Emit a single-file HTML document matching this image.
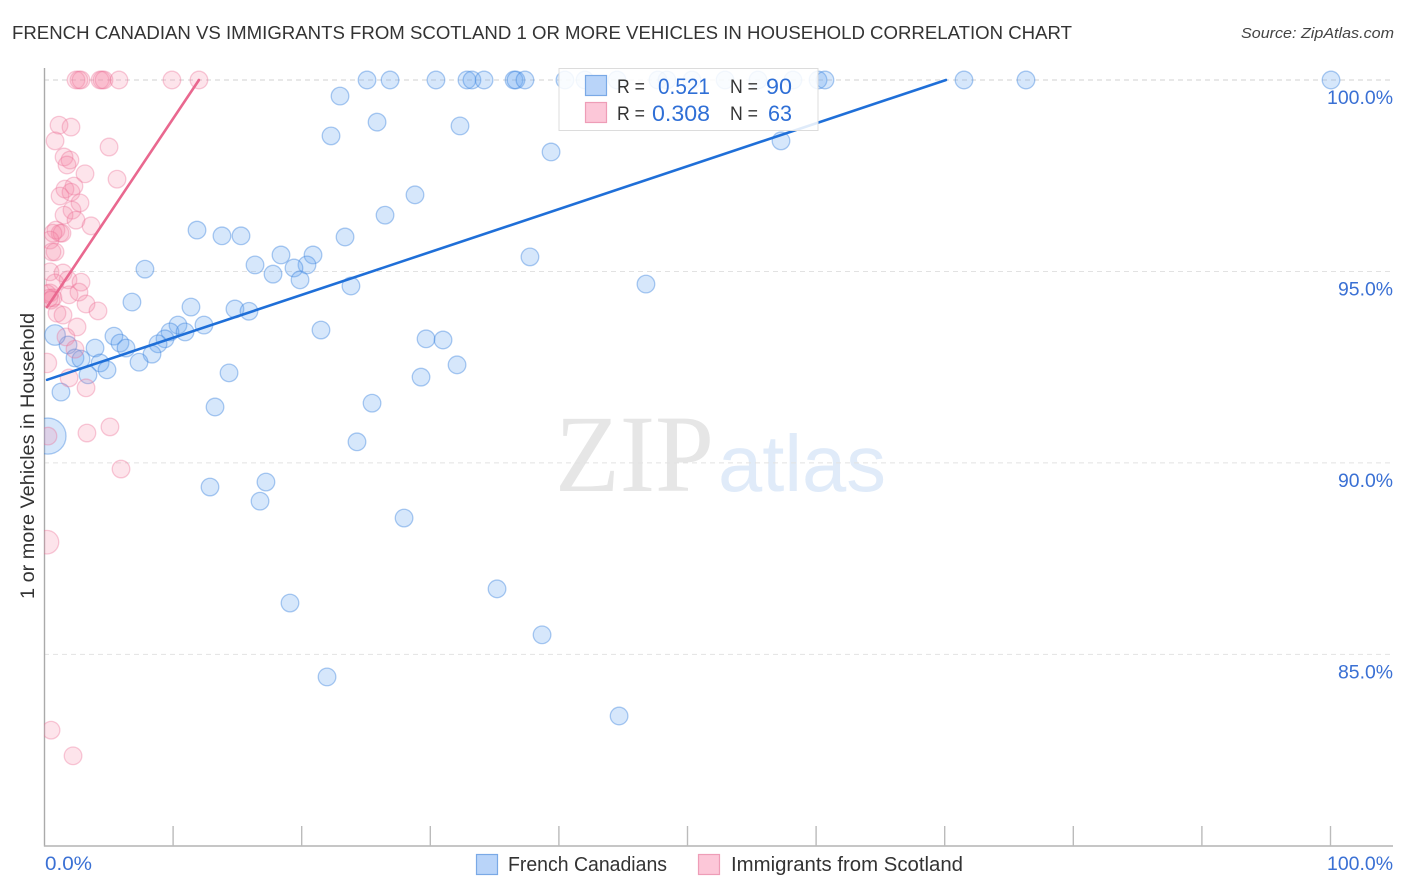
<!DOCTYPE html>
<html lang="en">
<head>
<meta charset="utf-8">
<title>French Canadian vs Immigrants from Scotland Correlation Chart</title>
<style>
html,body{margin:0;padding:0;background:#fff;}
svg{display:block;}
text{font-family:"Liberation Sans",sans-serif;}
</style>
</head>
<body>
<svg id="chart" width="1406" height="892" viewBox="0 0 1406 892" xmlns="http://www.w3.org/2000/svg">
  <defs>
    <clipPath id="plot-clip"><rect x="44" y="60" width="1362" height="786"></rect></clipPath>
  </defs>
  <rect x="0" y="0" width="1406" height="892" fill="#fff"></rect>
  <text x="12" y="39" font-size="18.5" fill="#333" textLength="1060" lengthAdjust="spacingAndGlyphs">FRENCH CANADIAN VS IMMIGRANTS FROM SCOTLAND 1 OR MORE VEHICLES IN HOUSEHOLD CORRELATION CHART</text>
  <text x="1394" y="38" font-size="15" font-style="italic" fill="#444" text-anchor="end" textLength="153" lengthAdjust="spacingAndGlyphs">Source: ZipAtlas.com</text>
  <g>
    <text x="555" y="491" style="font-family:'Liberation Serif',serif" font-size="110" fill="#e6e6e6" textLength="159" lengthAdjust="spacingAndGlyphs">ZIP</text>
    <text x="718" y="491" font-size="80" fill="#e0ebf9" textLength="168" lengthAdjust="spacingAndGlyphs">atlas</text>
  </g>
  <g id="grid"></g>
  <g id="axes"></g>
  <g id="marks" clip-path="url(#plot-clip)"></g>
  <g id="ylabels"></g>
  <g id="xlabels"></g>
  <text transform="translate(34,456) rotate(-90)" font-size="19" fill="#333" text-anchor="middle" textLength="286" lengthAdjust="spacingAndGlyphs">1 or more Vehicles in Household</text>

  <g>
    <rect x="559" y="68.5" width="259" height="62" fill="#fff" fill-opacity="0.86" stroke="#dcdcdc" stroke-width="1"></rect>
    <rect x="585.5" y="75.5" width="21" height="20" fill="#b9d4f9" stroke="#7aa9e6" stroke-width="1.2"></rect>
    <rect x="585.5" y="102.5" width="21" height="20" fill="#fcc7d8" stroke="#ee9db7" stroke-width="1.2"></rect>
    <text x="617" y="93" font-size="19" fill="#333" textLength="28" lengthAdjust="spacingAndGlyphs">R =</text>
    <text x="658" y="94" font-size="22" fill="#2f6fd6" textLength="52" lengthAdjust="spacingAndGlyphs">0.521</text>
    <text x="730" y="93" font-size="19" fill="#333" textLength="28" lengthAdjust="spacingAndGlyphs">N =</text>
    <text x="766" y="94" font-size="22" fill="#2f6fd6" textLength="26" lengthAdjust="spacingAndGlyphs">90</text>
    <text x="617" y="120" font-size="19" fill="#333" textLength="28" lengthAdjust="spacingAndGlyphs">R =</text>
    <text x="652" y="121" font-size="22" fill="#2f6fd6" textLength="58" lengthAdjust="spacingAndGlyphs">0.308</text>
    <text x="730" y="120" font-size="19" fill="#333" textLength="28" lengthAdjust="spacingAndGlyphs">N =</text>
    <text x="768" y="121" font-size="22" fill="#2f6fd6" textLength="24" lengthAdjust="spacingAndGlyphs">63</text>
  </g>

  <g>
    <g>
      <rect x="476.5" y="854.5" width="21" height="20" fill="#b9d4f9" stroke="#7aa9e6" stroke-width="1.2"></rect>
      <text x="508" y="871" font-size="20" fill="#333" textLength="159" lengthAdjust="spacingAndGlyphs">French Canadians</text>
    </g>
    <g>
      <rect x="698.5" y="854.5" width="21" height="20" fill="#fcc7d8" stroke="#ee9db7" stroke-width="1.2"></rect>
      <text x="731" y="871" font-size="20" fill="#333" textLength="232" lengthAdjust="spacingAndGlyphs">Immigrants from Scotland</text>
    </g>
  </g>
</svg>
<script>
const yTicks = [100, 95, 90, 85];
const yTickLabels = ["100.0%", "95.0%", "90.0%", "85.0%"];
const xTicks = [0, 10, 20, 30, 40, 50, 60, 70, 80, 90, 100];
const xEdgeLabels = ["0.0%", "100.0%"];

const blueX = [25.08,26.87,30.44,32.85,33.24,34.18,36.51,36.66,37.36,40.47,42.03,44.52,47.70,48.40,50.35,52.92,55.48,58.20,60.15,60.69,71.50,76.32,100.04,
  22.98,22.28,25.86,32.31,39.39,57.27,28.81,26.48,11.86,13.80,15.28,23.37,18.39,20.88,37.75,16.37,20.41,19.40,7.81,17.77,19.87,23.83,46.77,6.80,11.39,14.81,15.90,10.38,12.40,21.50,5.40,9.76,10.93,9.37,8.83,5.87,6.34,3.93,1.83,29.67,30.99,8.36,7.35,2.37,2.84,4.32,4.86,32.08,3.38,14.35,29.28,1.28,25.47,13.26,24.30,17.22,12.87,16.76,27.96,35.19,19.09,38.69,21.97,44.68];
const blueY = [100,100,100,100,100,100,100,100,100,100,100,100,100,100,100,100,100,100,100,100,100,100,100,
  99.58,98.54,98.90,98.80,98.12,98.41,97.00,96.47,96.08,95.93,95.93,95.90,95.43,95.43,95.38,95.17,95.17,95.09,95.06,94.93,94.78,94.62,94.67,94.20,94.07,94.02,93.96,93.60,93.60,93.47,93.31,93.42,93.42,93.24,93.11,93.13,93.00,93.00,93.08,93.24,93.21,92.84,92.63,92.74,92.71,92.61,92.43,92.56,92.30,92.35,92.24,91.85,91.56,91.46,90.55,89.50,89.37,89.00,88.56,86.71,86.34,85.51,84.41,83.39];
const blueLargeX = [0.27, 0.82];
const blueLargeY = [90.70, 93.34];
const blueLargeWeight = [4.2, 1.36];

const pinkX = [2.45,2.68,2.84,4.32,4.47,4.63,5.79,9.91,12.01,
  1.13,2.06,0.82,5.02,1.52,1.98,1.75,3.15,5.64,2.29,1.59,2.06,1.21,2.76,2.14,1.52,2.45,3.62,0.89,1.21,1.36,0.66,0.43,0.58,0.82,0.43,1.44,1.83,2.84,0.82,0.43,0.66,1.91,2.68,3.23,4.16,0.97,1.44,2.53,1.67,2.37,1.91,3.23,3.30,5.09,5.95,0.51,2.22,0.27,0.19,0.35,0.50];
const pinkY = [100,100,100,100,100,100,100,100,100,
  98.82,98.77,98.41,98.25,97.99,97.91,97.78,97.55,97.41,97.23,97.15,97.07,96.97,96.79,96.60,96.47,96.34,96.19,96.08,96.00,96.00,96.00,95.82,95.51,95.51,94.99,94.96,94.78,94.72,94.70,94.44,94.31,94.39,94.46,94.15,93.97,93.91,93.86,93.55,93.29,92.97,92.22,91.96,90.78,90.94,89.84,83.02,82.35,90.70,94.42,94.30,94.25];
const pinkLargeX = [0.19, 0.19];
const pinkLargeY = [92.61, 87.93];
const pinkLargeWeight = [1.2, 1.8];

const blueTrendX = [0.2, 70.1];
const blueTrendY = [92.17, 100];
const pinkTrendX = [0.2, 12.01];
const pinkTrendY = [94.07, 100];

const SVGNS = "http://www.w3.org/2000/svg";
function xScale(v) { return 44.5 + v * 12.86; }
function yScale(v) { return 80 + (100 - v) * 38.29; }
function make(tag, attrs, parent) {
  const el = document.createElementNS(SVGNS, tag);
  for (const k in attrs) el.setAttribute(k, attrs[k]);
  parent.appendChild(el);
  return el;
}
const gridG = document.getElementById("grid");
const axesG = document.getElementById("axes");
const marksG = document.getElementById("marks");
const yLabG = document.getElementById("ylabels");
const xLabG = document.getElementById("xlabels");

yTicks.forEach(function (t, i) {
  const line = make("line", {x1: 44, x2: 1393, y1: yScale(t), y2: yScale(t), stroke: i === 0 ? "#d2d2d2" : "#e2e2e2", "stroke-width": 1, "stroke-dasharray": "5 4"}, gridG);
  
  
  const label = make("text", {x: 1393, y: yScale(t) + 24, "font-size": 19, fill: "#3a70d4", "text-anchor": "end", textLength: i === 0 ? 66 : 55, lengthAdjust: "spacingAndGlyphs"}, yLabG);
  
  
  label.textContent = yTickLabels[i];
});

const yAxis = make("line", {x1: 44.5, x2: 44.5, y1: 68, y2: 846.5, stroke: "#aaa", "stroke-width": 1.4}, axesG);


const xAxis = make("line", {x1: 44, x2: 1393, y1: 846, y2: 846, stroke: "#b4b4b4", "stroke-width": 1.4}, axesG);


xTicks.forEach(function (t) {
  if (t === 0) return;
  const tick = make("line", {x1: xScale(t), x2: xScale(t), y1: 826, y2: 846, stroke: "#bbb", "stroke-width": 1.4}, axesG);
  
  
});

const x0Label = make("text", {x: 45, y: 870, "font-size": 19, fill: "#3a70d4", textLength: 47, lengthAdjust: "spacingAndGlyphs"}, xLabG);


x0Label.textContent = xEdgeLabels[0];
const x1Label = make("text", {x: 1393, y: 870, "font-size": 19, fill: "#3a70d4", "text-anchor": "end", textLength: 66, lengthAdjust: "spacingAndGlyphs"}, xLabG);


x1Label.textContent = xEdgeLabels[1];

const BASE_R = 8.8;
function drawBlue(x, y, w) {
  const c = make("circle", {cx: xScale(x), cy: yScale(y), r: BASE_R * Math.sqrt(w), fill: "rgba(105,165,240,0.27)", stroke: "rgba(60,130,222,0.42)", "stroke-width": 1.3}, marksG);
  
  
}
function drawPink(x, y, w) {
  const c = make("circle", {cx: xScale(x), cy: yScale(y), r: BASE_R * Math.sqrt(w), fill: "rgba(245,130,165,0.22)", stroke: "rgba(235,110,150,0.36)", "stroke-width": 1.3}, marksG);
  
  
}
blueX.forEach(function (x, i) { drawBlue(x, blueY[i], 1); });
blueLargeX.forEach(function (x, i) { drawBlue(x, blueLargeY[i], blueLargeWeight[i]); });
pinkX.forEach(function (x, i) { drawPink(x, pinkY[i], 1); });
pinkLargeX.forEach(function (x, i) { drawPink(x, pinkLargeY[i], pinkLargeWeight[i]); });

const blueLine = make("line", {x1: xScale(blueTrendX[0]), y1: yScale(blueTrendY[0]), x2: xScale(blueTrendX[1]), y2: yScale(blueTrendY[1]), stroke: "#1f6fd8", "stroke-width": 2.6, "stroke-linecap": "round"}, marksG);


const pinkLine = make("line", {x1: xScale(pinkTrendX[0]), y1: yScale(pinkTrendY[0]), x2: xScale(pinkTrendX[1]), y2: yScale(pinkTrendY[1]), stroke: "#e9688f", "stroke-width": 2.6, "stroke-linecap": "round"}, marksG);


</script>
</body>
</html>
